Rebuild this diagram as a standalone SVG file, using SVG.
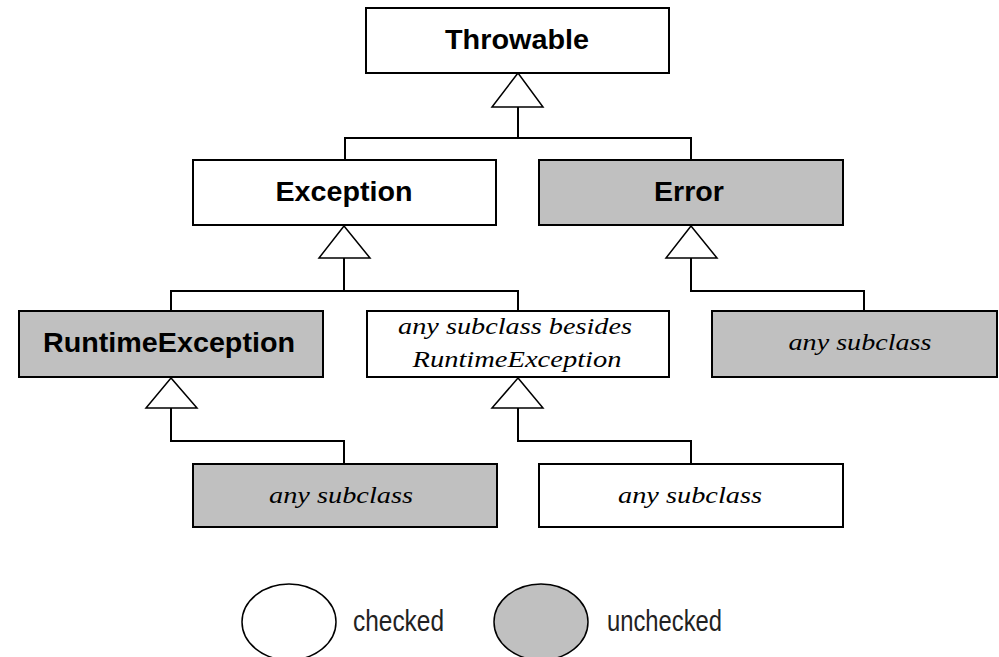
<svg xmlns="http://www.w3.org/2000/svg" width="999" height="657" viewBox="0 0 999 657">
<style>
.box{stroke:#000;stroke-width:2;fill:#fff}
.gray{fill:#c0c0c0}
.tri{fill:#fff;stroke:#000;stroke-width:1.5}
.ln{fill:none;stroke:#000;stroke-width:2}
.b{font-family:"Liberation Sans",Arial,sans-serif;font-weight:bold;font-size:28px;fill:#000;text-anchor:middle}
.i{font-family:"Liberation Serif","Times New Roman",serif;font-style:italic;font-size:23px;fill:#000;text-anchor:middle}
.lg{font-family:"Liberation Sans",Arial,sans-serif;font-size:29px;fill:#222}
.el{stroke:#000;stroke-width:1.5}
</style>
<rect width="999" height="657" fill="#fff"/>
<g id="connectors">
<path class="ln" d="M518,107V138M345,160V138H691V160"/>
<polygon class="tri" points="518,73 492,107 543,107"/>
<path class="ln" d="M344,258V291M171,311V291H518V311"/>
<polygon class="tri" points="344,226 319,258 370,258"/>
<path class="ln" d="M691,258V291H864V311"/>
<polygon class="tri" points="691,226 666,258 717,258"/>
<path class="ln" d="M171,408V441H344V464"/>
<polygon class="tri" points="171,378 146,408 197,408"/>
<path class="ln" d="M518,408V441H691V464"/>
<polygon class="tri" points="518,378 492,408 543,408"/>
</g>
<g id="throwable"><rect class="box" x="366" y="8" width="303" height="65"/><text class="b" x="517" y="49" textLength="144" lengthAdjust="spacingAndGlyphs">Throwable</text></g>
<g id="exception"><rect class="box" x="193" y="160" width="303" height="65"/><text class="b" x="344" y="201" textLength="137" lengthAdjust="spacingAndGlyphs">Exception</text></g>
<g id="error"><rect class="box gray" x="539" y="160" width="304" height="65"/><text class="b" x="689" y="201" textLength="70" lengthAdjust="spacingAndGlyphs">Error</text></g>
<g id="runtimeexception"><rect class="box gray" x="19" y="311" width="304" height="66"/><text class="b" x="169" y="352" textLength="252" lengthAdjust="spacingAndGlyphs">RuntimeException</text></g>
<g id="besides"><rect class="box" x="367" y="311" width="302" height="66"/><text class="i" x="515" y="334" textLength="234" lengthAdjust="spacingAndGlyphs">any subclass besides</text><text class="i" x="517" y="367" textLength="209" lengthAdjust="spacingAndGlyphs">RuntimeException</text></g>
<g id="error-sub"><rect class="box gray" x="712" y="311" width="285" height="66"/><text class="i" x="860" y="350" textLength="143" lengthAdjust="spacingAndGlyphs">any subclass</text></g>
<g id="runtime-sub"><rect class="box gray" x="193" y="464" width="304" height="63"/><text class="i" x="341" y="503" textLength="144" lengthAdjust="spacingAndGlyphs">any subclass</text></g>
<g id="besides-sub"><rect class="box" x="539" y="464" width="304" height="63"/><text class="i" x="690" y="503" textLength="144" lengthAdjust="spacingAndGlyphs">any subclass</text></g>
<g id="legend-checked"><ellipse class="el" cx="289" cy="622" rx="47" ry="38" fill="#fff"/><text class="lg" x="353" y="631" textLength="91" lengthAdjust="spacingAndGlyphs">checked</text></g>
<g id="legend-unchecked"><ellipse class="el" cx="541" cy="622" rx="47" ry="38" fill="#c0c0c0"/><text class="lg" x="607" y="631" textLength="115" lengthAdjust="spacingAndGlyphs">unchecked</text></g>
</svg>
